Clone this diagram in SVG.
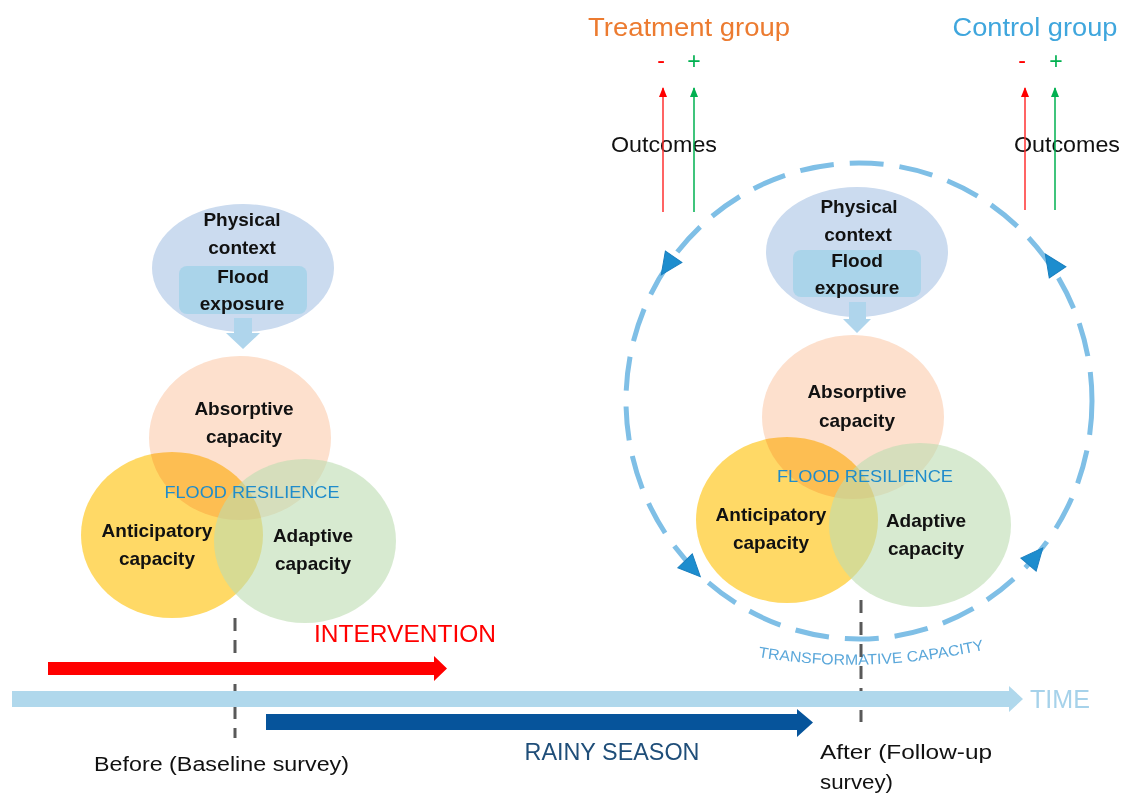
<svg xmlns="http://www.w3.org/2000/svg" width="1121" height="796" viewBox="0 0 1121 796">
<defs>
<style>
.lbl{font-family:"Liberation Sans",Arial,sans-serif;font-weight:bold;font-size:19px;fill:#111;text-anchor:middle}
.res{font-family:"Liberation Sans",Arial,sans-serif;font-size:17px;fill:#1f8ccb;text-anchor:middle}
.txt{font-family:"Liberation Sans",Arial,sans-serif;fill:#111}
.phys{fill:#cbdbef}
.inner{fill:#aad4ea}
.absorb{fill:#fde0cd}
.antic{fill:#ffd966;mix-blend-mode:multiply}
.adapt{fill:#bcdcb1;opacity:0.6}
.downarrow{fill:#afd5ec}
.ring{fill:none;stroke:#7fbfe6;stroke-width:5;stroke-dasharray:34 16}
.ringhead{fill:#1d8dce;stroke:#1a7fbf;stroke-width:1}
.dash{stroke:#595959;stroke-width:3;stroke-dasharray:13 9;fill:none}
</style>
<marker id="hr" markerWidth="10" markerHeight="10" refX="9" refY="5" orient="auto" markerUnits="userSpaceOnUse">
<path d="M0,1 L10,5 L0,9 Z" fill="#ff0000"/>
</marker>
<marker id="hg" markerWidth="10" markerHeight="10" refX="9" refY="5" orient="auto" markerUnits="userSpaceOnUse">
<path d="M0,1 L10,5 L0,9 Z" fill="#00b050"/>
</marker>
<path id="tcurve" d="M758,657 Q872,676 992,648"/>
</defs>
<rect width="1121" height="796" fill="#ffffff"/>

<!-- Titles -->
<g id="treatment-title">
<text class="txt" x="689" y="36" font-size="25" text-anchor="middle" textLength="202" lengthAdjust="spacingAndGlyphs" style="fill:#ec7b30">Treatment group</text>
<text class="txt" x="661" y="68" font-size="23" text-anchor="middle" style="fill:#ff0000">-</text>
<text class="txt" x="694" y="69" font-size="23" text-anchor="middle" style="fill:#00b050">+</text>
<text class="txt" x="664" y="152" font-size="22" text-anchor="middle" textLength="106" lengthAdjust="spacingAndGlyphs">Outcomes</text>
</g>
<g id="control-title">
<text class="txt" x="1035" y="36" font-size="25" text-anchor="middle" textLength="165" lengthAdjust="spacingAndGlyphs" style="fill:#3fa6dd">Control group</text>
<text class="txt" x="1022" y="68" font-size="23" text-anchor="middle" style="fill:#ff0000">-</text>
<text class="txt" x="1056" y="69" font-size="23" text-anchor="middle" style="fill:#00b050">+</text>
<text class="txt" x="1067" y="152" font-size="22" text-anchor="middle" textLength="106" lengthAdjust="spacingAndGlyphs">Outcomes</text>
</g>

<!-- Left cluster (Before) -->
<g id="before-physical">
<ellipse class="phys" cx="243" cy="268" rx="91" ry="64"/>
<rect class="inner" x="179" y="266" width="128" height="48" rx="8"/>
<path class="downarrow" d="M234,318 L252,318 L252,333 L260,333 L243,349 L226,333 L234,333 Z"/>
<text class="lbl" x="242" y="226">Physical</text>
<text class="lbl" x="242" y="254">context</text>
<text class="lbl" x="243" y="283">Flood</text>
<text class="lbl" x="242" y="310">exposure</text>
</g>
<g id="before-absorptive">
<ellipse class="absorb" cx="240" cy="438" rx="91" ry="82"/>
</g>
<g id="before-anticipatory">
<ellipse class="antic" cx="172" cy="535" rx="91" ry="83"/>
</g>
<g id="before-adaptive">
<ellipse class="adapt" cx="305" cy="541" rx="91" ry="82"/>
</g>
<g id="before-labels">
<text class="lbl" x="244" y="415">Absorptive</text>
<text class="lbl" x="244" y="443">capacity</text>
<text class="res" x="252" y="498" textLength="175" lengthAdjust="spacingAndGlyphs">FLOOD RESILIENCE</text>
<text class="lbl" x="157" y="537">Anticipatory</text>
<text class="lbl" x="157" y="565">capacity</text>
<text class="lbl" x="313" y="542">Adaptive</text>
<text class="lbl" x="313" y="570">capacity</text>
</g>

<!-- Right cluster (After) -->
<g id="after-physical">
<ellipse class="phys" cx="857" cy="252" rx="91" ry="65"/>
<rect class="inner" x="793" y="250" width="128" height="47" rx="8"/>
<path class="downarrow" d="M849,302 L866,302 L866,319 L871,319 L857,333 L843,319 L849,319 Z"/>
<text class="lbl" x="859" y="213">Physical</text>
<text class="lbl" x="858" y="241">context</text>
<text class="lbl" x="857" y="267">Flood</text>
<text class="lbl" x="857" y="294">exposure</text>
</g>
<g id="after-absorptive">
<ellipse class="absorb" cx="853" cy="417" rx="91" ry="82"/>
</g>
<g id="after-anticipatory">
<ellipse class="antic" cx="787" cy="520" rx="91" ry="83"/>
</g>
<g id="after-adaptive">
<ellipse class="adapt" cx="920" cy="525" rx="91" ry="82"/>
</g>
<g id="after-labels">
<text class="lbl" x="857" y="398">Absorptive</text>
<text class="lbl" x="857" y="427">capacity</text>
<text class="res" x="865" y="482" textLength="176" lengthAdjust="spacingAndGlyphs">FLOOD RESILIENCE</text>
<text class="lbl" x="771" y="521">Anticipatory</text>
<text class="lbl" x="771" y="549">capacity</text>
<text class="lbl" x="926" y="527">Adaptive</text>
<text class="lbl" x="926" y="555">capacity</text>
</g>

<!-- Transformative ring -->
<g id="transformative-ring">
<ellipse class="ring" cx="859" cy="401" rx="233" ry="238"/>
<path class="ringhead" d="M12,0 L-10,-10 L-10,10 Z" transform="translate(668,265) rotate(124.3)"/>
<path class="ringhead" d="M12,0 L-10,-10 L-10,10 Z" transform="translate(1052,264) rotate(-123.9)"/>
<path class="ringhead" d="M12,0 L-10,-10 L-10,10 Z" transform="translate(692,568) rotate(46.2)"/>
<path class="ringhead" d="M12,0 L-10,-10 L-10,10 Z" transform="translate(1035,557) rotate(-49.7)"/>
<text class="txt" font-size="15" style="fill:#5aa7da"><textPath href="#tcurve" textLength="228" lengthAdjust="spacingAndGlyphs">TRANSFORMATIVE CAPACITY</textPath></text>
</g>

<!-- Connectors -->
<g id="connectors">
<line x1="663" y1="212" x2="663" y2="88" stroke="#ff3030" stroke-width="1.5" marker-end="url(#hr)"/>
<line x1="694" y1="212" x2="694" y2="88" stroke="#00b050" stroke-width="1.5" marker-end="url(#hg)"/>
<line x1="1025" y1="210" x2="1025" y2="88" stroke="#ff3030" stroke-width="1.5" marker-end="url(#hr)"/>
<line x1="1055" y1="210" x2="1055" y2="88" stroke="#00b050" stroke-width="1.5" marker-end="url(#hg)"/>
<line class="dash" x1="235" y1="618" x2="235" y2="738"/>
<line class="dash" x1="861" y1="600" x2="861" y2="722"/>
</g>

<!-- Timeline -->
<g id="intervention">
<path d="M48,662 L434,662 L434,656 L447,668.5 L434,681 L434,675 L48,675 Z" fill="#ff0000"/>
<text class="txt" x="405" y="642" font-size="24" text-anchor="middle" textLength="182" lengthAdjust="spacingAndGlyphs" style="fill:#ff0000">INTERVENTION</text>
</g>
<g id="time">
<path d="M12,691 L1009,691 L1009,686 L1023,699 L1009,712 L1009,707 L12,707 Z" fill="#b0d8ec"/>
<text class="txt" x="1030" y="708" font-size="25" textLength="60" lengthAdjust="spacingAndGlyphs" style="fill:#a6d2ea">TIME</text>
</g>
<g id="rainy-season">
<path d="M266,714 L797,714 L797,709 L813,722.5 L797,737 L797,730 L266,730 Z" fill="#06549b"/>
<text class="txt" x="612" y="760" font-size="24" text-anchor="middle" textLength="175" lengthAdjust="spacingAndGlyphs" style="fill:#1f4e79">RAINY SEASON</text>
</g>
<g id="before-label">
<text class="txt" x="94" y="771" font-size="20" textLength="255" lengthAdjust="spacingAndGlyphs">Before (Baseline survey)</text>
</g>
<g id="after-label">
<text class="txt" x="820" y="759" font-size="20" textLength="172" lengthAdjust="spacingAndGlyphs">After (Follow-up</text>
<text class="txt" x="820" y="789" font-size="20" textLength="73" lengthAdjust="spacingAndGlyphs">survey)</text>
</g>
</svg>
